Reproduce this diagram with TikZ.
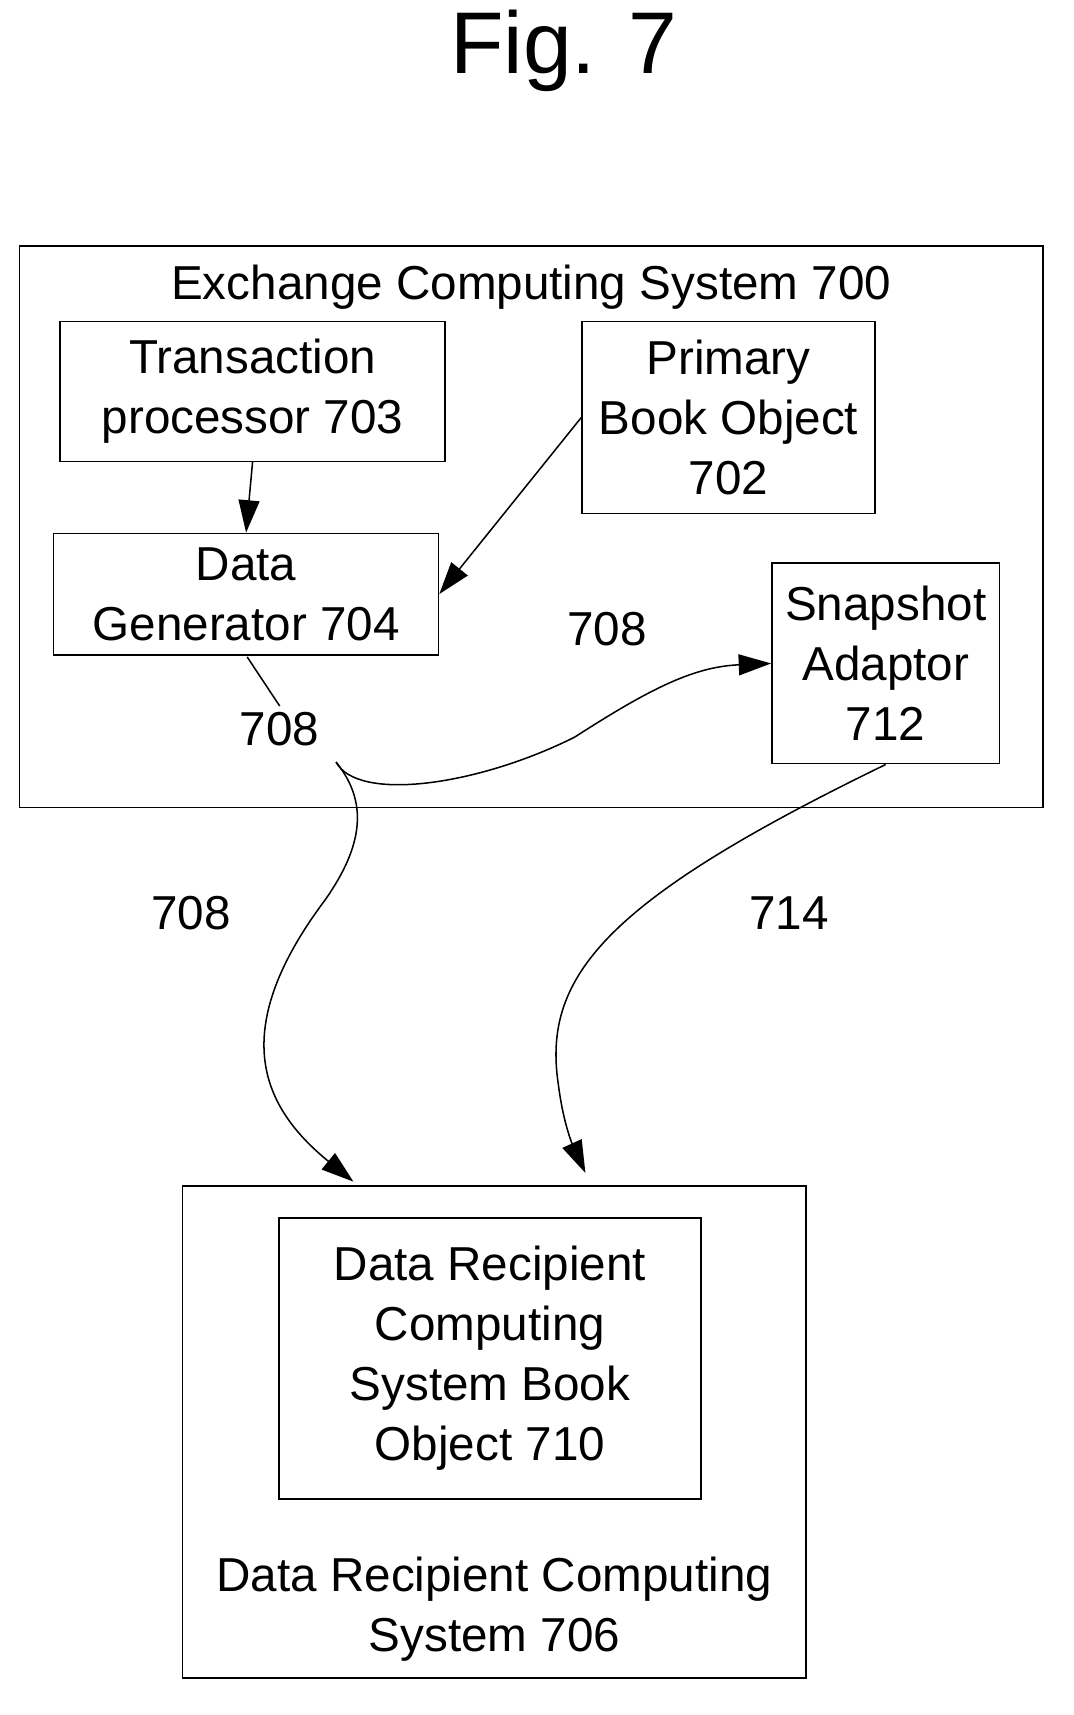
\documentclass[tikz,border=0pt]{standalone}
\usepackage{fontspec}
\setmainfont{Liberation Sans}
\usetikzlibrary{arrows.meta,positioning}
\tikzset{
  box/.style={rectangle, draw, line width=0.8pt, inner sep=0pt, align=center, font=\fontsize{25}{31.5}\selectfont},
  lbl/.style={font=\fontsize{25}{31.5}\selectfont},
  flow/.style={-{Triangle[length=17pt,width=11pt]}, line width=0.8pt}
}
\begin{document}
\begin{tikzpicture}[x=0.02cm, y=-0.02cm]
	\useasboundingbox (0,0) rectangle (990,1582);
	\node[lbl, font=\fontsize{46}{50}\selectfont](fig) at (520,47){Fig. 7};

	\node[box, minimum width=944*0.02cm, minimum height=518*0.02cm](exch) at (490,486){};
	\node[lbl](exchLabel) at (490,265){Exchange Computing System 700};
	\node[box, minimum width=355*0.02cm, minimum height=129*0.02cm](trans) at (233,361){Transaction\\processor 703};
	\node[box, minimum width=270*0.02cm, minimum height=177*0.02cm](primary) at (672,385){Primary\\Book Object\\702};
	\node[box, minimum width=355*0.02cm, minimum height=112*0.02cm](gen) at (227,548){Data\\Generator 704};
	\node[box, minimum width=210*0.02cm, minimum height=185*0.02cm](snap) at (817,612){Snapshot\\Adaptor\\712};

	\node[box, minimum width=575*0.02cm, minimum height=454*0.02cm](recip) at (456,1321){};
	\node[box, minimum width=389*0.02cm, minimum height=259*0.02cm](book) at (452,1253){Data Recipient\\Computing\\System Book\\Object 710};
	\node[lbl, align=center](recipLabel) at (456,1484){Data Recipient Computing\\System 706};

	\node[lbl](l708a) at (560,580){708};
	\node[lbl](l708b) at (258,673){708};
	\node[lbl](l708c) at (176,842){708};
	\node[lbl](l714) at (728,842){714};

	\coordinate (split) at (310,703);

	% draw arrows inside exchange
	\draw[flow] (233,426) -- (gen.north);
	\draw[flow] (primary.west) -- (gen.east);
	\draw[line width=0.8pt] (228,606) -- (l708b.north);

	% draw data stream
	\draw[flow] (split) .. controls (330,740) and (440,725) .. (530,680) .. controls (600,635) and (640,615) .. (snap.west);
	\draw[flow] (split) .. controls (340,740) and (335,780) .. (300,830) .. controls (210,950) and (240,1020) .. (326,1090);
	\draw[flow] (snap.south) .. controls (560,830) and (500,900) .. (515,1000) .. controls (520,1040) and (530,1060) .. (540,1082);
\end{tikzpicture}
\end{document}
